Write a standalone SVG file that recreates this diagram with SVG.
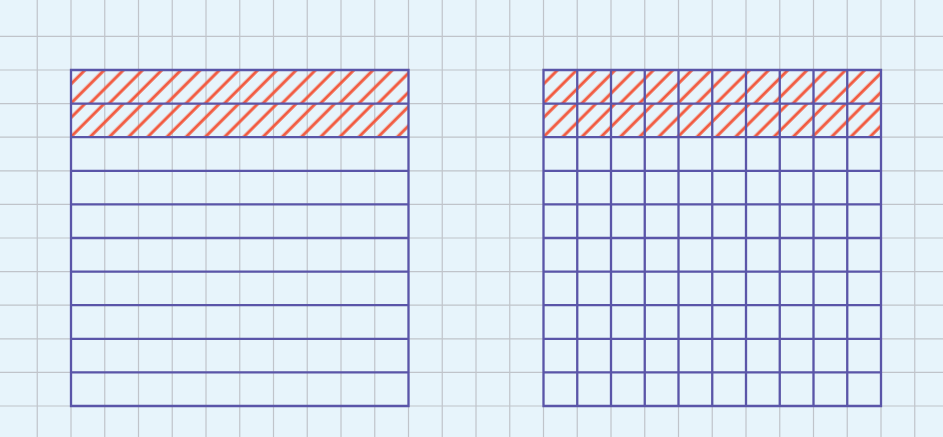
<svg xmlns="http://www.w3.org/2000/svg" width="943" height="437" viewBox="0 0 943 437">
<style>
.grid{stroke:#c0c4ca;stroke-width:1.2;fill:none}
.sq{stroke:#5a55a8;stroke-width:2.3;fill:none}
.h{stroke:#f25a3f;stroke-width:3}
</style>
<defs>
<pattern id="hL1" patternUnits="userSpaceOnUse" width="13.58" height="20" patternTransform="translate(71,70) rotate(45)"><line class="h" x1="9.9" y1="-2" x2="9.9" y2="22"/></pattern>
<pattern id="hL2" patternUnits="userSpaceOnUse" width="13.58" height="20" patternTransform="translate(71,103.6) rotate(45)"><line class="h" x1="9.9" y1="-2" x2="9.9" y2="22"/></pattern>
<pattern id="hR1" patternUnits="userSpaceOnUse" width="13.58" height="20" patternTransform="translate(543.5,70) rotate(45)"><line class="h" x1="9.9" y1="-2" x2="9.9" y2="22"/></pattern>
<pattern id="hR2" patternUnits="userSpaceOnUse" width="13.58" height="20" patternTransform="translate(543.5,103.6) rotate(45)"><line class="h" x1="9.9" y1="-2" x2="9.9" y2="22"/></pattern>
</defs>
<rect x="0" y="0" width="943" height="437" fill="#e7f4fb"/>
<path class="grid" d="M0,36.4H943M0,70H943M0,103.6H943M0,137.2H943M0,170.8H943M0,204.4H943M0,238H943M0,271.6H943M0,305.2H943M0,338.8H943M0,372.4H943M0,406H943
M37.25,0V437M71,0V437M104.75,0V437M138.5,0V437M172.25,0V437M206,0V437M239.75,0V437M273.5,0V437M307.25,0V437M341,0V437M374.75,0V437M408.5,0V437M442.25,0V437M476,0V437M509.75,0V437M543.5,0V437M577.25,0V437M611,0V437M644.75,0V437M678.5,0V437M712.25,0V437M746,0V437M779.75,0V437M813.5,0V437M847.25,0V437M881,0V437M914.75,0V437"/>
<g id="left-square">
<rect x="71" y="70" width="337.5" height="33.6" fill="url(#hL1)"/>
<rect x="71" y="103.6" width="337.5" height="33.6" fill="url(#hL2)"/>
<path class="sq" d="M71,70H408.5V406H71ZM71,103.6H408.5M71,137.2H408.5M71,170.8H408.5M71,204.4H408.5M71,238H408.5M71,271.6H408.5M71,305.2H408.5M71,338.8H408.5M71,372.4H408.5"/>
</g>
<g id="right-square">
<rect x="543.5" y="70" width="337.5" height="33.6" fill="url(#hR1)"/>
<rect x="543.5" y="103.6" width="337.5" height="33.6" fill="url(#hR2)"/>
<path class="sq" d="M543.5,70H881V406H543.5ZM543.5,103.6H881M543.5,137.2H881M543.5,170.8H881M543.5,204.4H881M543.5,238H881M543.5,271.6H881M543.5,305.2H881M543.5,338.8H881M543.5,372.4H881
M577.25,70V406M611,70V406M644.75,70V406M678.5,70V406M712.25,70V406M746,70V406M779.75,70V406M813.5,70V406M847.25,70V406"/>
</g>
</svg>
